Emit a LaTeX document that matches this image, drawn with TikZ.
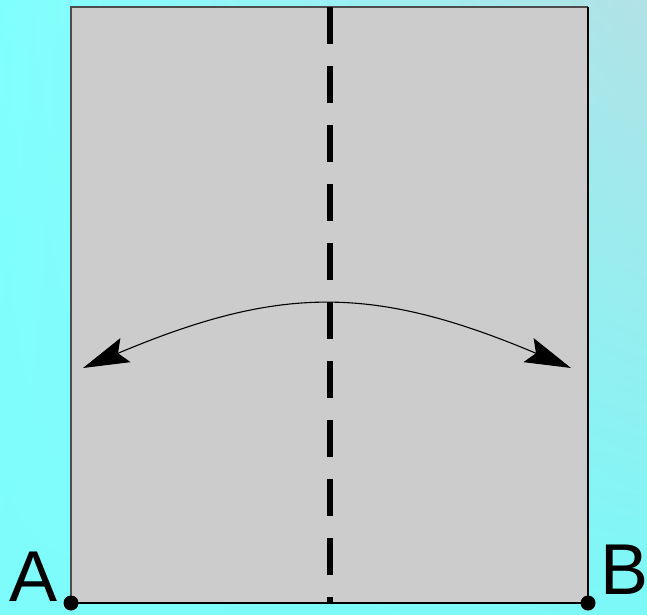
\documentclass[tikz,border=0pt]{standalone}
\usepackage{fontspec}
\setmainfont{Liberation Sans}
\usetikzlibrary{arrows.meta,shadings}
\definecolor{bgA}{RGB}{128,255,255}
\definecolor{bgB}{RGB}{178,226,230}
\definecolor{bgC}{RGB}{126,252,252}
\definecolor{bgD}{RGB}{124,248,248}
\definecolor{sheet}{RGB}{204,204,204}
\tikzset{
  lbl/.style={inner sep=0pt, font=\fontsize{72}{72}\selectfont, anchor=base west},
  dot/.style={fill=black},
  foldline/.style={line width=6pt, dash pattern=on 37pt off 22pt},
  swing/.style={line width=1.1pt, {Stealth[length=46pt,width=26pt,inset=8pt]}-{Stealth[length=46pt,width=26pt,inset=8pt]}}
}
\begin{document}
\begin{tikzpicture}[x=1pt,y=-1pt]
\useasboundingbox (0,0) rectangle (647,614);
\shade[upper left=bgA, upper right=bgB, lower left=bgC, lower right=bgD] (0,0) rectangle (647,614);
\coordinate (TL) at (71,7);
\coordinate (BR) at (588,603);
\fill[sheet] (TL) rectangle (BR);
\draw[black!70, line width=1.3pt] (71,603) -- (71,7) -- (588,7);
\draw[black, line width=1.5pt] (588,7) -- (588,603) -- (71,603);
\coordinate (ftop) at (329.5,7);
\coordinate (fbot) at (329.5,603);
\draw[foldline] (ftop) -- (fbot);
\coordinate (L) at (83,368);
\coordinate (R) at (571,368);
\draw[swing] (L) .. controls (280,285) and (374,285) .. (R);
\coordinate (pA) at (71,603);
\coordinate (pB) at (588,603);
\fill[dot] (pA) circle (7.5);
\fill[dot] (pB) circle (7.5);
\node[lbl] (A) at (9.5,601) {A};
\node[lbl] (B) at (600,594) {B};
\end{tikzpicture}
\end{document}
